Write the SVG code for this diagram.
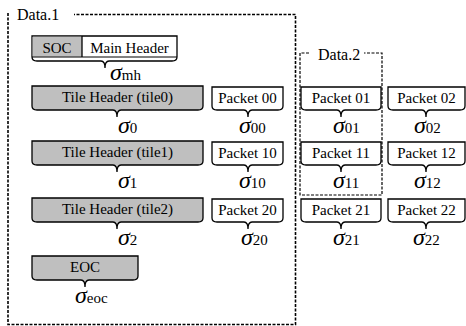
<svg xmlns="http://www.w3.org/2000/svg" width="466" height="326" viewBox="0 0 466 326" font-family="Liberation Serif, Tinos, Times New Roman, DejaVu Serif, Noto Serif, FreeSerif, serif">
<style>
.w{fill:#fff;stroke:#000;stroke-width:1.3}
.g{fill:#bfbfbf;stroke:#000;stroke-width:1.3}
.gf{fill:#bfbfbf}
.t{font-size:15px;text-anchor:middle}
.lb{font-size:16px}
.s{font-size:24px;font-style:italic}
.sub{font-size:15px;font-style:normal}
.d1{fill:none;stroke:#000;stroke-width:1.6;stroke-dasharray:3 1.5}
.d2{fill:none;stroke:#000;stroke-width:1.2;stroke-dasharray:3 1.5}
</style>
<g id="frames">
<path class="d1" d="M8,13 V324.5 H295.5 V14.5 H74"/>
<text class="lb" x="17" y="20">Data.1</text>
<path class="d2" d="M309,53 H300 V195 H382 V53 H364"/>
<text class="lb" x="318" y="60">Data.2</text>
</g>
<g id="mainheader">
<path class="w" d="M32,36 H177 V57 Q177,61 172,61 H109 Q105,61 105,68 Q105,61 101,61 H37 Q32,61 32,57 Z"/>
<rect class="gf" x="32.7" y="36.7" width="49.3" height="20"/>
<line x1="82" y1="36" x2="82" y2="57" stroke="#000" stroke-width="1.3"/>
<line x1="32" y1="57" x2="177" y2="57" stroke="#000" stroke-width="1"/>
<text class="t" x="57" y="53">SOC</text>
<text class="t" x="129.5" y="53">Main Header</text>
<text class="s" x="110" y="80">σ<tspan class="sub">mh</tspan></text>
</g>
<g id="tile0">
<path class="g" d="M32,86 H203 V106 Q203,110 198,110 H121 Q117,110 117,117 Q117,110 113,110 H37 Q32,110 32,106 Z"/>
<text class="t" x="117.5" y="102">Tile Header  (tile0)</text>
<text class="s" x="118" y="133">σ<tspan class="sub">0</tspan></text>
</g>
<g id="tile1">
<path class="g" d="M32,141 H203 V161 Q203,165 198,165 H121 Q117,165 117,172 Q117,165 113,165 H37 Q32,165 32,161 Z"/>
<text class="t" x="117.5" y="157">Tile Header  (tile1)</text>
<text class="s" x="118" y="188">σ<tspan class="sub">1</tspan></text>
</g>
<g id="tile2">
<path class="g" d="M32,198 H203 V218 Q203,222 198,222 H121 Q117,222 117,229 Q117,222 113,222 H37 Q32,222 32,218 Z"/>
<text class="t" x="117.5" y="214">Tile Header  (tile2)</text>
<text class="s" x="118" y="245">σ<tspan class="sub">2</tspan></text>
</g>
<g id="eoc">
<path class="g" d="M32,256 H138 V276 Q138,280 133,280 H89 Q85,280 85,287 Q85,280 81,280 H37 Q32,280 32,276 Z"/>
<text class="t" x="85" y="272">EOC</text>
<text class="s" x="75" y="303">σ<tspan class="sub">eoc</tspan></text>
</g>
<g id="p00">
<path class="w" d="M212,87 H283 V106 Q283,110 278,110 H252 Q248,110 248,117 Q248,110 244,110 H217 Q212,110 212,106 Z"/>
<text class="t" x="247.5" y="103">Packet 00</text>
<text class="s" x="239" y="133">σ<tspan class="sub">00</tspan></text>
</g>
<g id="p01">
<path class="w" d="M301,87 H381 V106 Q381,110 376,110 H345 Q341,110 341,117 Q341,110 337,110 H306 Q301,110 301,106 Z"/>
<text class="t" x="341" y="103">Packet 01</text>
<text class="s" x="333" y="133">σ<tspan class="sub">01</tspan></text>
</g>
<g id="p02">
<path class="w" d="M388,87 H465 V106 Q465,110 460,110 H430 Q426,110 426,117 Q426,110 422,110 H393 Q388,110 388,106 Z"/>
<text class="t" x="426.5" y="103">Packet 02</text>
<text class="s" x="414" y="133">σ<tspan class="sub">02</tspan></text>
</g>
<g id="p10">
<path class="w" d="M212,142 H283 V161 Q283,165 278,165 H252 Q248,165 248,172 Q248,165 244,165 H217 Q212,165 212,161 Z"/>
<text class="t" x="247.5" y="158">Packet 10</text>
<text class="s" x="239" y="188">σ<tspan class="sub">10</tspan></text>
</g>
<g id="p11">
<path class="w" d="M301,142 H381 V161 Q381,165 376,165 H345 Q341,165 341,172 Q341,165 337,165 H306 Q301,165 301,161 Z"/>
<text class="t" x="341" y="158">Packet 11</text>
<text class="s" x="333" y="188">σ<tspan class="sub">11</tspan></text>
</g>
<g id="p12">
<path class="w" d="M388,142 H465 V161 Q465,165 460,165 H430 Q426,165 426,172 Q426,165 422,165 H393 Q388,165 388,161 Z"/>
<text class="t" x="426.5" y="158">Packet 12</text>
<text class="s" x="414" y="188">σ<tspan class="sub">12</tspan></text>
</g>
<g id="p20">
<path class="w" d="M212,199 H283 V218 Q283,222 278,222 H252 Q248,222 248,229 Q248,222 244,222 H217 Q212,222 212,218 Z"/>
<text class="t" x="247.5" y="215">Packet 20</text>
<text class="s" x="241" y="245">σ<tspan class="sub">20</tspan></text>
</g>
<g id="p21">
<path class="w" d="M301,199 H381 V218 Q381,222 376,222 H345 Q341,222 341,229 Q341,222 337,222 H306 Q301,222 301,218 Z"/>
<text class="t" x="341" y="215">Packet 21</text>
<text class="s" x="333" y="245">σ<tspan class="sub">21</tspan></text>
</g>
<g id="p22">
<path class="w" d="M388,199 H465 V218 Q465,222 460,222 H430 Q426,222 426,229 Q426,222 422,222 H393 Q388,222 388,218 Z"/>
<text class="t" x="426.5" y="215">Packet 22</text>
<text class="s" x="413" y="245">σ<tspan class="sub">22</tspan></text>
</g>
<g id="connectors"/>
</svg>
